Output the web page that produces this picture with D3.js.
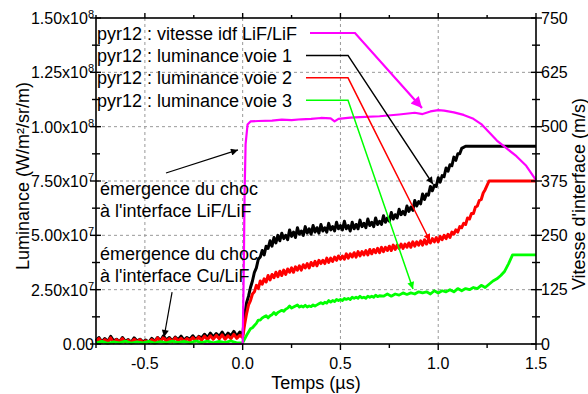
<!DOCTYPE html>
<html>
<head>
<meta charset="utf-8">
<script src="https://cdn.jsdelivr.net/npm/d3@7"></script>
<style>
  body { margin: 0; background: #fff; }
  svg  { display: block; font-family: "Liberation Sans", Arial, sans-serif; }
</style>
</head>
<body>
<svg id="chart" width="588" height="394"></svg>
<script>
// pyr12 — luminance (3 channels, left axis, in 1e7 W/m²/sr/m) and interface velocity (right axis, m/s)
// each point is [time µs, value]

const voie1 = [
  [-0.75,0.15],[-0.735,0.3],[-0.72,0.1],[-0.705,0.25],[-0.69,0.12],[-0.675,0.35],[-0.66,0.15],[-0.645,0.22],
  [-0.63,0.1],[-0.615,0.3],[-0.6,0.12],[-0.585,0.2],[-0.57,0.08],[-0.555,0.28],[-0.54,0.14],[-0.525,0.22],
  [-0.51,0.1],[-0.495,0.18],[-0.48,0.08],[-0.465,0.26],[-0.45,0.12],[-0.435,0.3],[-0.42,0.15],[-0.405,0.38],
  [-0.39,0.18],[-0.375,0.3],[-0.36,0.14],[-0.345,0.32],[-0.33,0.2],[-0.315,0.36],[-0.3,0.18],[-0.285,0.3],
  [-0.27,0.22],[-0.255,0.38],[-0.24,0.2],[-0.225,0.35],[-0.21,0.28],[-0.195,0.45],[-0.18,0.3],[-0.165,0.5],
  [-0.15,0.32],[-0.135,0.48],[-0.12,0.35],[-0.105,0.55],[-0.09,0.33],[-0.075,0.5],[-0.06,0.38],[-0.045,0.58],
  [-0.03,0.36],[-0.015,0.55],[0.0,0.4],[0.01,1.3],
  [0.02,1.9],[0.03,2.2],[0.04,2.6],[0.05,2.9],[0.06,3.3],[0.07,3.5],[0.08,3.9],[0.09,4.0],[0.10,4.3],
  [0.11,4.1],[0.12,4.5],[0.13,4.4],[0.14,4.75],[0.15,4.5],[0.16,4.9],[0.17,4.65],[0.18,5.0],[0.19,4.75],
  [0.20,5.1],[0.21,4.85],[0.22,5.0],[0.23,4.8],[0.24,5.25],[0.25,4.95],[0.26,5.15],[0.27,4.9],[0.28,5.35],
  [0.29,5.05],[0.30,5.2],[0.31,5.0],[0.32,5.4],[0.33,5.1],[0.34,5.3],[0.35,5.05],[0.36,5.45],[0.37,5.15],
  [0.38,5.35],[0.39,5.1],[0.40,5.5],[0.41,5.2],[0.42,5.35],[0.43,5.15],[0.44,5.55],[0.45,5.25],[0.46,5.4],
  [0.47,5.2],[0.48,5.6],[0.49,5.3],[0.50,5.45],[0.51,5.25],[0.52,5.65],[0.53,5.3],[0.54,5.45],[0.55,5.2],
  [0.56,5.6],[0.57,5.3],[0.58,5.5],[0.59,5.3],[0.60,5.7],[0.61,5.4],[0.62,5.55],[0.63,5.35],[0.64,5.75],
  [0.65,5.45],[0.66,5.6],[0.67,5.4],[0.68,5.8],[0.69,5.5],[0.70,5.65],[0.71,5.5],[0.72,5.9],[0.73,5.6],
  [0.74,5.8],[0.75,5.65],[0.76,6.05],[0.77,5.75],[0.78,5.95],[0.79,5.8],[0.80,6.2],[0.81,5.95],[0.82,6.1],
  [0.83,5.95],[0.84,6.35],[0.85,6.1],[0.86,6.3],[0.87,6.15],[0.88,6.6],[0.89,6.35],[0.90,6.55],[0.91,6.45],
  [0.92,6.9],[0.93,6.65],[0.94,6.9],[0.95,6.85],[0.96,7.25],[0.97,7.05],[0.98,7.3],[0.99,7.25],[1.00,7.65],
  [1.01,7.45],[1.02,7.75],[1.03,7.7],[1.04,8.1],[1.05,7.95],[1.06,8.25],[1.07,8.2],[1.08,8.6],[1.09,8.45],
  [1.10,8.75],[1.11,8.75],[1.12,9.0],[1.14,9.1],[1.50,9.1]
];

const voie2 = [
  [-0.75,0.12],[-0.735,0.25],[-0.72,0.08],[-0.705,0.2],[-0.69,0.1],[-0.675,0.28],[-0.66,0.06],[-0.645,0.2],
  [-0.63,0.1],[-0.615,0.25],[-0.6,0.08],[-0.585,0.18],[-0.57,0.06],[-0.555,0.22],[-0.54,0.1],[-0.525,0.2],
  [-0.51,0.06],[-0.495,0.15],[-0.48,0.08],[-0.465,0.2],[-0.45,0.1],[-0.435,0.28],[-0.42,0.12],[-0.405,0.3],
  [-0.39,0.14],[-0.375,0.25],[-0.36,0.1],[-0.345,0.28],[-0.33,0.15],[-0.315,0.26],[-0.3,0.12],[-0.285,0.25],
  [-0.27,0.16],[-0.255,0.3],[-0.24,0.14],[-0.225,0.32],[-0.21,0.18],[-0.195,0.36],[-0.18,0.2],[-0.165,0.38],
  [-0.15,0.22],[-0.135,0.4],[-0.12,0.24],[-0.105,0.42],[-0.09,0.22],[-0.075,0.38],[-0.06,0.25],[-0.045,0.44],
  [-0.03,0.26],[-0.015,0.4],[0.0,0.3],[0.01,0.9],
  [0.02,1.4],[0.03,1.8],[0.04,2.0],[0.05,2.3],[0.06,2.4],[0.07,2.7],[0.08,2.55],[0.09,2.9],[0.10,2.75],
  [0.11,3.0],[0.12,2.85],[0.13,3.15],[0.14,2.95],[0.15,3.2],[0.16,3.05],[0.17,3.3],[0.18,3.1],[0.19,3.35],
  [0.20,3.15],[0.21,3.4],[0.22,3.2],[0.23,3.45],[0.24,3.3],[0.25,3.5],[0.26,3.3],[0.27,3.55],[0.28,3.4],
  [0.29,3.6],[0.30,3.4],[0.31,3.65],[0.32,3.5],[0.33,3.7],[0.34,3.5],[0.35,3.75],[0.36,3.6],[0.37,3.8],
  [0.38,3.6],[0.39,3.85],[0.40,3.7],[0.41,3.85],[0.42,3.7],[0.43,3.95],[0.44,3.75],[0.45,3.95],[0.46,3.8],
  [0.47,4.0],[0.48,3.85],[0.49,4.05],[0.50,3.9],[0.51,4.05],[0.52,3.9],[0.53,4.15],[0.54,3.95],[0.55,4.15],
  [0.56,4.0],[0.57,4.2],[0.58,4.0],[0.59,4.25],[0.60,4.05],[0.61,4.25],[0.62,4.1],[0.63,4.3],[0.64,4.1],
  [0.65,4.35],[0.66,4.15],[0.67,4.35],[0.68,4.2],[0.69,4.4],[0.70,4.2],[0.71,4.45],[0.72,4.25],[0.73,4.45],
  [0.74,4.3],[0.75,4.5],[0.76,4.3],[0.77,4.55],[0.78,4.35],[0.79,4.55],[0.80,4.4],[0.81,4.6],[0.82,4.4],
  [0.83,4.6],[0.84,4.45],[0.85,4.65],[0.86,4.45],[0.87,4.7],[0.88,4.5],[0.89,4.7],[0.90,4.55],[0.91,4.75],
  [0.92,4.55],[0.93,4.8],[0.94,4.6],[0.95,4.8],[0.96,4.65],[0.97,4.85],[0.98,4.7],[0.99,4.9],[1.00,4.7],
  [1.01,4.95],[1.02,4.8],[1.03,5.0],[1.04,4.85],[1.05,5.05],[1.06,4.9],[1.07,5.15],[1.08,5.05],[1.09,5.25],
  [1.10,5.15],[1.11,5.4],[1.12,5.35],[1.13,5.55],[1.14,5.5],[1.15,5.8],[1.16,5.75],[1.17,6.0],[1.18,6.0],
  [1.19,6.3],[1.20,6.35],[1.21,6.6],[1.22,6.65],[1.23,6.95],[1.24,7.1],[1.26,7.5],[1.50,7.5]
];

const voie3 = [
  [-0.75,0.05],[-0.72,0.12],[-0.69,0.03],[-0.66,0.1],[-0.63,0.05],[-0.60,0.13],[-0.57,0.04],[-0.54,0.1],
  [-0.51,0.05],[-0.48,0.12],[-0.45,0.04],[-0.42,0.11],[-0.39,0.05],[-0.36,0.13],[-0.33,0.06],[-0.30,0.12],
  [-0.27,0.05],[-0.24,0.14],[-0.21,0.06],[-0.18,0.13],[-0.15,0.05],[-0.12,0.12],[-0.09,0.06],[-0.06,0.14],
  [-0.03,0.05],[0.0,0.05],[0.02,0.4],[0.03,0.55],[0.04,0.7],[0.05,0.75],[0.06,0.85],[0.07,0.95],[0.08,1.1],
  [0.09,1.1],[0.10,1.2],[0.11,1.25],[0.12,1.3],[0.13,1.2],[0.14,1.3],[0.15,1.35],[0.16,1.45],[0.17,1.35],
  [0.18,1.45],[0.19,1.5],[0.20,1.55],[0.21,1.5],[0.22,1.6],[0.23,1.65],[0.24,1.75],[0.25,1.65],[0.26,1.7],
  [0.27,1.75],[0.28,1.8],[0.29,1.7],[0.30,1.75],[0.31,1.7],[0.32,1.78],[0.33,1.7],[0.34,1.75],[0.35,1.72],
  [0.36,1.8],[0.37,1.75],[0.38,1.8],[0.39,1.85],[0.40,1.9],[0.41,1.85],[0.42,1.92],[0.43,1.88],[0.44,2.0],
  [0.45,1.93],[0.46,2.0],[0.47,1.95],[0.48,2.05],[0.49,2.0],[0.50,2.05],[0.51,2.0],[0.52,2.1],[0.53,2.05],
  [0.54,2.1],[0.55,2.05],[0.56,2.15],[0.57,2.1],[0.58,2.15],[0.59,2.1],[0.60,2.2],[0.61,2.12],[0.62,2.15],
  [0.63,2.1],[0.64,2.2],[0.65,2.15],[0.66,2.2],[0.67,2.15],[0.68,2.25],[0.69,2.18],[0.70,2.22],[0.72,2.2],
  [0.74,2.3],[0.76,2.2],[0.78,2.3],[0.80,2.25],[0.82,2.35],[0.84,2.28],[0.86,2.35],[0.88,2.3],[0.90,2.4],
  [0.92,2.35],[0.94,2.4],[0.96,2.3],[0.98,2.45],[1.00,2.35],[1.02,2.45],[1.04,2.4],[1.06,2.5],[1.08,2.4],
  [1.10,2.55],[1.12,2.45],[1.14,2.55],[1.16,2.5],[1.18,2.6],[1.20,2.55],[1.22,2.7],[1.24,2.6],[1.26,2.75],
  [1.28,2.9],[1.30,3.0],[1.32,3.15],[1.34,3.35],[1.36,3.7],[1.38,4.1],[1.50,4.1]
];

const vitesse = [
  [-0.2,0],[0.0,0],[0.005,150],[0.01,350],[0.015,460],[0.025,505],[0.04,512],[0.08,513],[0.15,514],
  [0.2,516],[0.25,515],[0.3,517],[0.35,518],[0.4,520],[0.45,519],[0.47,512],[0.49,518],[0.55,521],
  [0.6,522],[0.7,524],[0.8,528],[0.88,532],[0.92,529],[0.96,535],[1.0,538],[1.03,537],[1.08,533],
  [1.13,527],[1.18,518],[1.22,506],[1.26,487],[1.3,468],[1.35,450],[1.4,432],[1.45,410],[1.5,377]
];

const legendLabels = [
  'pyr12 : vitesse idf LiF/LiF',
  'pyr12 : luminance voie 1',
  'pyr12 : luminance voie 2',
  'pyr12 : luminance voie 3'
];
const legendColors = ['#ff00ff', '#000000', '#ff0000', '#00ff00'];
// where each legend line points to: [time, value on that series' axis]
const legendTargets = [[0.917, 543], [0.973, 7.36], [0.958, 4.74], [0.871, 2.53]];

const xTicks      = [-0.5, 0.0, 0.5, 1.0, 1.5];
const yLeftTicks  = [0, 2.5e7, 5e7, 7.5e7, 1e8, 1.25e8, 1.5e8];
const yRightTicks = [0, 125, 250, 375, 500, 625, 750];

const notes = [
  { lines: ['émergence du choc', "à l'interface LiF/LiF"], from: [-0.392, 7.87], to: [-0.024, 8.93] },
  { lines: ['émergence du choc', "à l'interface Cu/LiF"],  from: [-0.361, 2.39], to: [-0.402, 0.32] }
];

// ---- layout
const L = 96, R = 536, T = 18, B = 344;
const FS = 16;   // tick label size
const TS = 18;   // title / legend size

const svg = d3.select('#chart');
const x  = d3.scaleLinear().domain([-0.75, 1.5]).range([L, R]);
const yL = d3.scaleLinear().domain([0, 1.5e8]).range([B, T]);
const yR = d3.scaleLinear().domain([0, 750]).range([B, T]);
const lum = v => yL(v * 1e7);

// arrow heads
const defs = svg.append('defs');
legendColors.forEach((c, i) => {
  const big = i === 0;
  defs.append('marker')
    .attr('id', 'arr' + i)
    .attr('markerUnits', 'userSpaceOnUse')
    .attr('viewBox', '0 0 10 10')
    .attr('refX', 10).attr('refY', 5)
    .attr('markerWidth', big ? 14 : 9).attr('markerHeight', big ? 11 : 7)
    .attr('orient', 'auto')
    .append('path').attr('d', 'M0,0 L10,5 L0,10 Z').attr('fill', c);
});

// ---- grid
const grid = svg.append('g')
  .attr('stroke', '#999').attr('stroke-width', 1).attr('stroke-dasharray', '3,3');
grid.selectAll('line.v').data(xTicks.filter(t => t < 1.5)).join('line')
  .attr('x1', d => x(d)).attr('x2', d => x(d)).attr('y1', T).attr('y2', B);
grid.selectAll('line.h').data(yLeftTicks.filter(v => v > 0 && v < 1.5e8)).join('line')
  .attr('class', 'h')
  .attr('y1', d => yL(d)).attr('y2', d => yL(d)).attr('x1', L).attr('x2', R);

// ---- series
const line = (fy) => d3.line().x(d => x(d[0])).y(d => fy(d[1]));
const series = [
  { data: voie1,   color: '#000000', y: lum, w: 3.0 },
  { data: voie2,   color: '#ff0000', y: lum, w: 3.0 },
  { data: voie3,   color: '#00ff00', y: lum, w: 2.8 },
  { data: vitesse, color: '#ff00ff', y: yR,  w: 2.2 }
];
svg.append('g').selectAll('path').data(series).join('path')
  .attr('d', s => line(s.y)(s.data))
  .attr('fill', 'none')
  .attr('stroke', s => s.color)
  .attr('stroke-width', s => s.w)
  .attr('stroke-linejoin', 'round');

// ---- frame + ticks
const frame = svg.append('g').attr('stroke', '#000').attr('stroke-width', 1.6).attr('fill', 'none');
frame.append('rect').attr('x', L).attr('y', T).attr('width', R - L).attr('height', B - T);

const xMinor = d3.range(-0.75, 1.5001, 0.25).filter(t => !xTicks.some(m => Math.abs(m - t) < 1e-9));
const yMinor = d3.range(1.25e7, 1.5e8, 2.5e7);
const ticks = svg.append('g').attr('stroke', '#000').attr('stroke-width', 1.4);
const tick = (x1, y1, x2, y2) => ticks.append('line').attr('x1', x1).attr('y1', y1).attr('x2', x2).attr('y2', y2);
xTicks.forEach(t => { tick(x(t), B, x(t), B + 6); tick(x(t), T, x(t), T - 5); });
xMinor.forEach(t => { tick(x(t), B, x(t), B + 4); tick(x(t), T, x(t), T - 3); });
yLeftTicks.forEach(v => { tick(L - 6, yL(v), L + 5, yL(v)); tick(R - 5, yL(v), R + 6, yL(v)); });
yMinor.forEach(v => { tick(L - 4, yL(v), L + 4, yL(v)); tick(R - 4, yL(v), R + 4, yL(v)); });

// ---- tick labels
const labels = svg.append('g').attr('font-size', FS).attr('fill', '#000');
labels.selectAll('text.x').data(xTicks).join('text')
  .attr('x', d => x(d)).attr('y', 369).attr('text-anchor', 'middle')
  .text(d => d.toFixed(1));

labels.selectAll('text.yl').data(yLeftTicks).join('text')
  .attr('class', 'yl')
  .attr('x', L - 2).attr('y', d => yL(d)).attr('dy', '0.38em').attr('text-anchor', 'end')
  .each(function (v) {
    const t = d3.select(this);
    if (v === 0) { t.text('0.00'); return; }
    const e = Math.floor(Math.log10(v));
    t.append('tspan').text((v / Math.pow(10, e)).toFixed(2) + 'x10');
    t.append('tspan').attr('dy', -6).attr('font-size', 11).text(e);
  });

labels.selectAll('text.yr').data(yRightTicks).join('text')
  .attr('class', 'yr')
  .attr('x', R + 5).attr('y', d => yR(d)).attr('dy', '0.36em').attr('text-anchor', 'start')
  .text(d => d);

// ---- axis titles
svg.append('text').attr('font-size', TS).attr('text-anchor', 'middle')
  .attr('x', (L + R) / 2).attr('y', 389).text('Temps (µs)');
svg.append('text').attr('font-size', TS).attr('text-anchor', 'middle')
  .attr('transform', 'translate(29,176) rotate(-90)').text('Luminance (W/m²/sr/m)');
svg.append('text').attr('font-size', TS).attr('text-anchor', 'middle')
  .attr('transform', 'translate(585,194) rotate(-90)').text("Vitesse d'interface (m/s)");

// ---- legend: label + sample line bent into an arrow to its curve
const legend = svg.append('g').attr('font-size', TS);
legendLabels.forEach((lab, i) => {
  const cy = 33 + i * 22.4;
  legend.append('text').attr('x', L + 1).attr('y', cy + 6.5).text(lab);
  const tgt = legendTargets[i];
  const tx = x(tgt[0]), ty = i === 0 ? yR(tgt[1]) : lum(tgt[1]);
  const x0 = i === 0 ? 310 : 306, x1 = i === 0 ? 355 : 348;
  legend.append('path')
    .attr('d', `M${x0},${cy} L${x1},${cy} L${tx},${ty}`)
    .attr('fill', 'none')
    .attr('stroke', legendColors[i])
    .attr('stroke-width', i === 0 ? 2.2 : 1.5)
    .attr('marker-end', `url(#arr${i})`);
});

// ---- annotations
const ann = svg.append('g').attr('font-size', TS);
notes.forEach((n, i) => {
  const base = i === 0 ? 195 : 260;
  n.lines.forEach((s, k) => ann.append('text').attr('x', L + 4).attr('y', base + k * 22).text(s));
  ann.append('line')
    .attr('x1', x(n.from[0])).attr('y1', lum(n.from[1]))
    .attr('x2', x(n.to[0])).attr('y2', lum(n.to[1]))
    .attr('stroke', '#000').attr('stroke-width', 1.2)
    .attr('marker-end', 'url(#arr1)');
});
</script>
</body>
</html>
